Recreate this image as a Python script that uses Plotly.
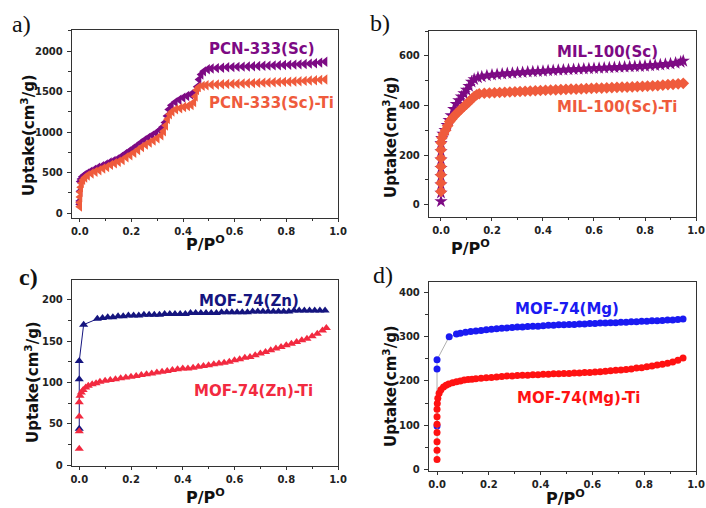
import plotly.graph_objects as go

W, H = 706, 508

# ---------------- Panel a: PCN-333 ----------------
pcn_sc_p = [0.000, 0.000, 0.001, 0.002, 0.005, 0.010, 0.018, 0.028, 0.040, 0.055, 0.070, 0.085, 0.100,
            0.115, 0.130, 0.145, 0.160, 0.175, 0.190, 0.205, 0.220, 0.235, 0.250, 0.265, 0.280, 0.295,
            0.310, 0.320, 0.330, 0.338, 0.345, 0.355, 0.370, 0.385, 0.400, 0.415, 0.430, 0.445, 0.455,
            0.462, 0.470, 0.480, 0.495, 0.510, 0.530, 0.550, 0.570, 0.590, 0.610, 0.630, 0.650, 0.670,
            0.690, 0.710, 0.730, 0.750, 0.770, 0.790, 0.810, 0.830, 0.850, 0.870, 0.890, 0.910, 0.930, 0.950]
pcn_sc_up = [110, 150, 270, 390, 420, 450, 470, 490, 510, 535, 560, 580, 600,
             625, 645, 665, 695, 730, 760, 795, 830, 865, 900, 930, 960, 990,
             1025, 1060, 1120, 1200, 1280, 1330, 1370, 1400, 1425, 1445, 1465, 1490, 1560,
             1650, 1710, 1750, 1775, 1785, 1790, 1795, 1800, 1802, 1805, 1808, 1810, 1812,
             1815, 1818, 1820, 1823, 1825, 1828, 1830, 1833, 1836, 1840, 1845, 1850, 1858, 1868]
pcn_ti_p = [0.000, 0.000, 0.001, 0.002, 0.004, 0.007, 0.012, 0.020, 0.030, 0.045, 0.060, 0.075, 0.090,
            0.105, 0.120, 0.135, 0.150, 0.165, 0.180, 0.195, 0.210, 0.225, 0.240, 0.255, 0.270, 0.285,
            0.300, 0.315, 0.325, 0.333, 0.340, 0.348, 0.358, 0.372, 0.388, 0.403, 0.418, 0.432, 0.442,
            0.448, 0.453, 0.460, 0.475, 0.490, 0.510, 0.530, 0.550, 0.570, 0.590, 0.610, 0.630, 0.650,
            0.670, 0.690, 0.710, 0.730, 0.750, 0.770, 0.790, 0.810, 0.830, 0.850, 0.870, 0.890, 0.910,
            0.930, 0.950]
pcn_ti_up = [80, 130, 200, 260, 320, 370, 410, 440, 465, 490, 510, 530, 550,
             570, 595, 615, 635, 655, 690, 715, 745, 780, 815, 845, 870, 895,
             925, 960, 1010, 1080, 1160, 1220, 1255, 1280, 1295, 1310, 1320, 1335, 1370,
             1440, 1520, 1555, 1570, 1578, 1585, 1588, 1590, 1593, 1595, 1597, 1600, 1602,
             1605, 1607, 1610, 1612, 1615, 1617, 1620, 1622, 1625, 1628, 1632, 1636, 1640,
             1645, 1650]

# ---------------- Panel b: MIL-100 ----------------
mil_sc_p = [0, 0, 0, 0, 0, 0, 0, 0, 0.003, 0.008, 0.016, 0.024, 0.032, 0.040, 0.050, 0.060, 0.070,
            0.080, 0.090, 0.100, 0.110, 0.120, 0.130, 0.145, 0.160, 0.180, 0.200, 0.220, 0.240, 0.260,
            0.280, 0.300, 0.320, 0.340, 0.360, 0.380, 0.400, 0.420, 0.440, 0.460, 0.480, 0.500, 0.520,
            0.540, 0.560, 0.580, 0.600, 0.620, 0.640, 0.660, 0.680, 0.700, 0.720, 0.740, 0.760, 0.780,
            0.800, 0.820, 0.840, 0.860, 0.880, 0.900, 0.920, 0.940, 0.950]
mil_sc_up = [13, 47, 80, 114, 147, 181, 214, 248, 268, 285, 300, 320, 340, 360, 385, 405, 420,
             435, 448, 462, 478, 495, 505, 512, 516, 520, 523, 525, 527, 529,
             530, 532, 533, 535, 536, 537, 538, 540, 541, 542, 543, 544, 545,
             546, 547, 548, 549, 550, 551, 552, 553, 554, 555, 556, 557, 558,
             559, 561, 562, 564, 566, 568, 571, 575, 579]
mil_ti_p = [0, 0, 0, 0, 0, 0, 0, 0.004, 0.010, 0.018, 0.026, 0.034, 0.042, 0.050, 0.060, 0.070, 0.080,
            0.090, 0.100, 0.110, 0.120, 0.130, 0.140, 0.150, 0.170, 0.190, 0.210, 0.230, 0.250, 0.270,
            0.290, 0.310, 0.330, 0.350, 0.370, 0.390, 0.410, 0.430, 0.450, 0.470, 0.490, 0.510, 0.530,
            0.550, 0.570, 0.590, 0.610, 0.630, 0.650, 0.670, 0.690, 0.710, 0.730, 0.750, 0.770, 0.790,
            0.810, 0.830, 0.850, 0.870, 0.890, 0.910, 0.930, 0.950]
mil_ti_up = [53, 87, 120, 154, 187, 221, 250, 270, 285, 300, 318, 335, 345, 355, 366, 376, 386,
             396, 405, 415, 425, 435, 443, 447, 449, 450, 451, 452, 453, 454,
             455, 456, 457, 458, 459, 460, 461, 462, 463, 464, 465, 466, 466,
             467, 468, 469, 470, 470, 471, 472, 473, 474, 474, 475, 476, 477,
             478, 479, 480, 482, 484, 485, 487, 489]

# ---------------- Panel c: MOF-74(Zn) ----------------
zn_p = [0, 0, 0, 0.017, 0.07, 0.09, 0.11, 0.13, 0.15, 0.17, 0.19, 0.21, 0.23, 0.25, 0.27, 0.29, 0.31,
        0.33, 0.35, 0.37, 0.39, 0.41, 0.43, 0.45, 0.47, 0.49, 0.51, 0.53, 0.55, 0.57, 0.59, 0.61, 0.63,
        0.65, 0.67, 0.69, 0.71, 0.73, 0.75, 0.77, 0.79, 0.81, 0.83, 0.85, 0.87, 0.89, 0.91, 0.93, 0.95]
zn_up = [44, 104, 126, 170, 177, 178, 179, 179, 180, 180, 181, 181, 181, 182, 182, 182, 182,
         183, 183, 183, 183, 183, 184, 184, 184, 184, 184, 184, 185, 185, 185, 185, 185,
         185, 186, 186, 186, 186, 186, 186, 186, 186, 187, 187, 187, 187, 187, 187, 187]
znti_p = [0, 0, 0, 0, 0.003, 0.008, 0.015, 0.025, 0.035, 0.05, 0.065, 0.08, 0.10, 0.12, 0.14, 0.16,
          0.18, 0.20, 0.22, 0.24, 0.26, 0.28, 0.30, 0.32, 0.34, 0.36, 0.38, 0.40, 0.42, 0.44, 0.46,
          0.48, 0.50, 0.52, 0.54, 0.56, 0.58, 0.60, 0.62, 0.64, 0.66, 0.68, 0.70, 0.72, 0.74, 0.76,
          0.78, 0.80, 0.82, 0.84, 0.86, 0.88, 0.90, 0.92, 0.94, 0.955]
znti_up = [20, 41, 59, 76, 84, 88, 91, 94, 96, 98, 99, 101, 102, 103, 104, 105,
           106, 107, 108, 109, 110, 111, 112, 113, 114, 115, 116, 117, 117, 118, 119,
           120, 121, 122, 123, 124, 125, 127, 128, 130, 131, 133, 135, 137, 139, 141,
           143, 145, 147, 149, 151, 153, 156, 159, 163, 166]

# ---------------- Panel d: MOF-74(Mg) ----------------
mg_p = [0, 0, 0, 0.047, 0.075, 0.09, 0.11, 0.13, 0.15, 0.17, 0.19, 0.21, 0.23, 0.25, 0.27, 0.29, 0.31,
        0.33, 0.35, 0.37, 0.39, 0.41, 0.43, 0.45, 0.47, 0.49, 0.51, 0.53, 0.55, 0.57, 0.59, 0.61, 0.63,
        0.65, 0.67, 0.69, 0.71, 0.73, 0.75, 0.77, 0.79, 0.81, 0.83, 0.85, 0.87, 0.89, 0.91, 0.93, 0.95]
mg_up = [98, 227, 248, 300, 306, 308, 310, 312, 313, 314, 316, 317, 318, 319, 320, 321, 322,
         322, 323, 324, 324, 325, 326, 326, 327, 327, 328, 328, 329, 329, 330, 330, 331,
         331, 332, 332, 333, 333, 334, 334, 335, 335, 336, 336, 337, 338, 338, 339, 340]
mgti_p = [0, 0, 0, 0, 0, 0, 0, 0.001, 0.003, 0.008, 0.015, 0.025, 0.035, 0.045, 0.06, 0.075, 0.09,
          0.105, 0.12, 0.135, 0.15, 0.17, 0.19, 0.21, 0.23, 0.25, 0.27, 0.29, 0.31, 0.33, 0.35, 0.37,
          0.39, 0.41, 0.43, 0.45, 0.47, 0.49, 0.51, 0.53, 0.55, 0.57, 0.59, 0.61, 0.63, 0.65, 0.67,
          0.69, 0.71, 0.73, 0.75, 0.77, 0.79, 0.81, 0.83, 0.85, 0.87, 0.89, 0.91, 0.93, 0.95]
mgti_up = [22, 43, 62, 83, 102, 119, 136, 149, 161, 172, 180, 186, 190, 193, 196, 198, 200,
           202, 203, 204, 205, 206, 207, 208, 209, 210, 211, 211, 212, 213, 213, 214,
           214, 215, 215, 216, 216, 217, 217, 218, 218, 219, 219, 220, 221, 222, 223,
           224, 225, 226, 227, 229, 230, 232, 234, 236, 238, 240, 243, 247, 252]

PURPLE = "#7d0a84"
ORANGE = "#ef5b3c"
NAVY = "#15157f"
RED_T = "#f22a40"
BLUE = "#1a1af2"
RED_C = "#ff1212"

FONT = "DejaVu Sans"

fig = go.Figure()

def sc(x, y, ax, color, symbol, size, line=None):
    mode = "markers" if line is None else "lines+markers"
    fig.add_trace(go.Scatter(
        x=x, y=y, xaxis="x" + ax, yaxis="y" + ax, mode=mode,
        marker=dict(color=color, symbol=symbol, size=size, line=dict(width=0)),
        line=line if line is not None else None, showlegend=False, cliponaxis=False,
        hoverinfo="skip"))

# Panel a
sc(pcn_sc_p, pcn_sc_up, "", PURPLE, "triangle-left", 9)
sc(pcn_ti_p, pcn_ti_up, "", ORANGE, "triangle-left", 9)
# Panel b
sc(mil_sc_p, mil_sc_up, "2", PURPLE, "star", 10)
sc(mil_ti_p, mil_ti_up, "2", ORANGE, "diamond", 9)
# Panel c
sc(zn_p, zn_up, "3", NAVY, "triangle-up", 8, line=dict(color=NAVY, width=1))
sc(znti_p, znti_up, "3", RED_T, "triangle-up", 8)
# Panel d
sc(mg_p, mg_up, "4", BLUE, "circle", 7, line=dict(color="#9a9a9a", width=0.8))
sc(mgti_p, mgti_up, "4", RED_C, "circle", 7, line=dict(color="#9a9a9a", width=0.8))

def px_x(p):
    return p / W

def px_y(p):
    return 1 - p / H

tickfont = dict(family=FONT, size=10, color="#222", weight="bold")

def xax(dom, yname, rng):
    return dict(domain=dom, anchor=yname, range=rng, tickmode="array",
                tickvals=[0, 0.2, 0.4, 0.6, 0.8, 1.0],
                ticktext=["0.0", "0.2", "0.4", "0.6", "0.8", "1.0"],
                ticks="outside", ticklen=3, tickwidth=1.2, tickcolor="#333",
                minor=dict(tickvals=[0.1, 0.3, 0.5, 0.7, 0.9], ticks="outside", ticklen=2,
                           tickwidth=1, tickcolor="#333"),
                showline=True, linecolor="#333", linewidth=1.4, mirror=True,
                showgrid=False, zeroline=False, tickfont=tickfont, ticklabelstandoff=1)

def yax(dom, xname, rng, dt):
    return dict(domain=dom, anchor=xname, range=rng, tick0=0, dtick=dt,
                ticks="outside", ticklen=4, tickwidth=1.2, tickcolor="#333",
                minor=dict(dtick=dt / 2, tick0=0, ticks="outside", ticklen=2.5,
                           tickwidth=1, tickcolor="#333"),
                showline=True, linecolor="#333", linewidth=1.4, mirror=True,
                showgrid=False, zeroline=False, tickfont=tickfont, ticklabelstandoff=2)

xa_dom = [px_x(72), px_x(338)]
xb_dom = [px_x(429), px_x(696)]

fig.update_layout(
    width=W, height=H, margin=dict(l=0, r=0, t=0, b=0, autoexpand=False),
    paper_bgcolor="white", plot_bgcolor="white",
    xaxis=xax(xa_dom, "y", [-0.03, 1.0]),
    yaxis=yax([px_y(218), px_y(30)], "x", [-60, 2260], 500),
    xaxis2=xax(xb_dom, "y2", [-0.047, 1.0]),
    yaxis2=yax([px_y(217), px_y(31)], "x2", [-50, 700], 200),
    xaxis3=xax(xa_dom, "y3", [-0.028, 1.0]),
    yaxis3=yax([px_y(466), px_y(280)], "x3", [-1, 224], 50),
    xaxis4=xax(xb_dom, "y4", [-0.031, 1.0]),
    yaxis4=yax([px_y(471), px_y(282)], "x4", [-4, 424], 100),
)

ann = []

def note(text, x, y, size, color, xanchor="center", family=FONT, angle=0, yanchor="middle"):
    ann.append(dict(text=text, x=px_x(x), y=px_y(y), xref="paper", yref="paper",
                    xanchor=xanchor, yanchor=yanchor, showarrow=False, textangle=angle,
                    font=dict(family=family, size=size, color=color)))

# Panel letters
note("a)", 21, 24, 24, "#111", family="Liberation Serif")
note("b)", 380, 23, 24, "#111", family="Liberation Serif")
note("<b>c)</b>", 28, 277, 24, "#111", family="Liberation Serif")
note("d)", 383, 275, 24, "#111", family="Liberation Serif")

# Series labels
note("<b>PCN-333(Sc)</b>", 207, 49, 15, PURPLE, xanchor="left")
note("<b>PCN-333(Sc)-Ti</b>", 207, 103, 15, ORANGE, xanchor="left")
note("<b>MIL-100(Sc)</b>", 555, 52, 15, PURPLE, xanchor="left")
note("<b>MIL-100(Sc)-Ti</b>", 555, 107, 15, ORANGE, xanchor="left")
note("<b>MOF-74(Zn)</b>", 197, 301, 15, NAVY, xanchor="left")
note("<b>MOF-74(Zn)-Ti</b>", 192, 391, 15, RED_T, xanchor="left")
note("<b>MOF-74(Mg)</b>", 513, 309, 15, BLUE, xanchor="left")
note("<b>MOF-74(Mg)-Ti</b>", 515, 398, 15, RED_C, xanchor="left")

# Axis titles
ytitle = "<b>Uptake(cm<sup>3</sup>/g)</b>"
xtitle = "<b>P/P<sup>O</sup></b>"
note(ytitle, 28, 135, 15, "#111", angle=-90)
note(ytitle, 390, 137, 15, "#111", angle=-90)
note(ytitle, 32, 382, 15, "#111", angle=-90)
note(ytitle, 390, 386, 15, "#111", angle=-90)
note(xtitle, 205, 243, 16, "#111")
note(xtitle, 471, 247, 16, "#111")
note(xtitle, 205, 496, 16, "#111")
note(xtitle, 565, 497, 16, "#111")

fig.update_layout(annotations=ann)

fig.write_html("out.html", config={"displayModeBar": False},
               post_script="document.body.style.margin='0';document.body.style.padding='0';")
